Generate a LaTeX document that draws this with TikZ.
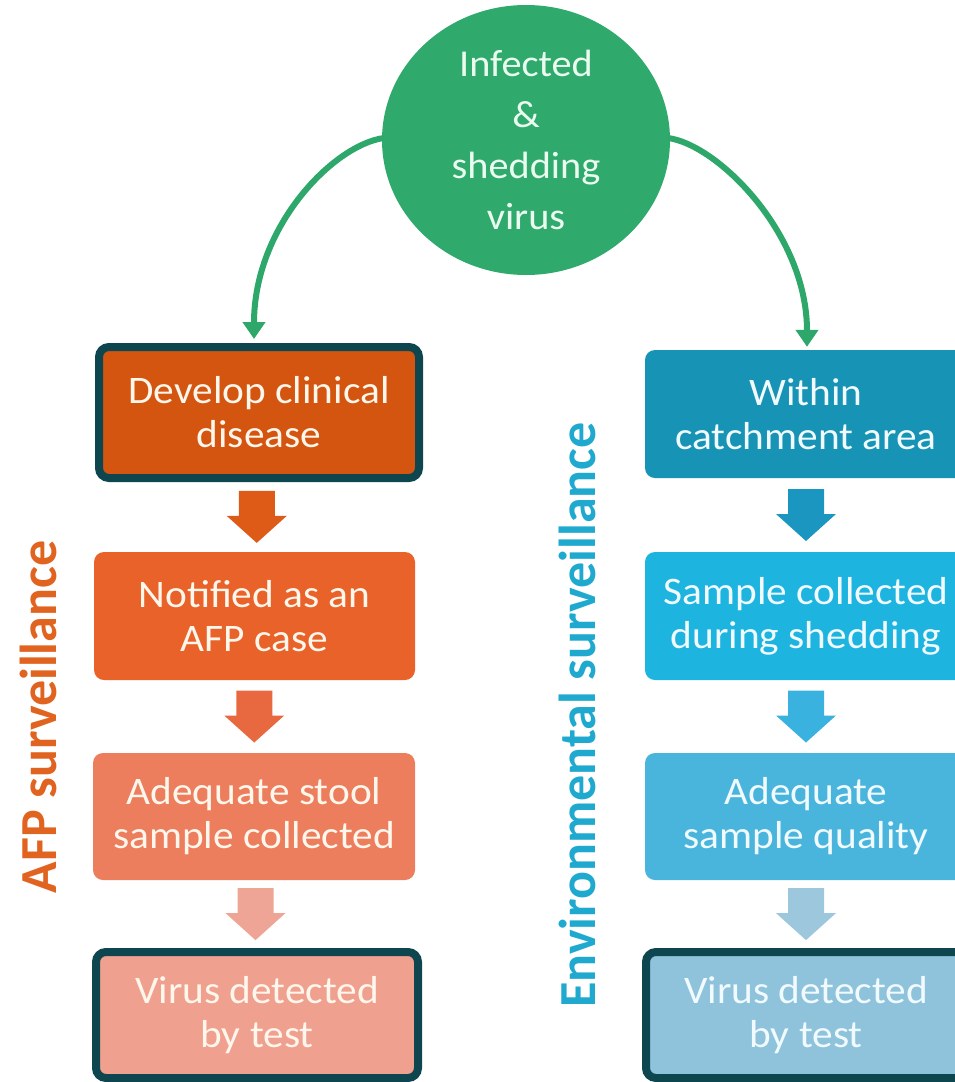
\documentclass[tikz,border=0pt]{standalone}
\usepackage{fontspec}
\setmainfont{Carlito}[FakeStretch=1.06]
\newfontfamily\sidefont{Carlito}
\usetikzlibrary{arrows.meta,calc,shapes.geometric}
\definecolor{grn}{HTML}{2FAA6C}
\definecolor{grnline}{HTML}{2EA86A}
\definecolor{dkb}{HTML}{0E4650}
\definecolor{orA}{HTML}{D3550F}
\definecolor{orB}{HTML}{E8622A}
\definecolor{orC}{HTML}{EC7D5D}
\definecolor{orD}{HTML}{EFA08E}
\definecolor{oaA}{HTML}{DD5A17}
\definecolor{oaB}{HTML}{E8693F}
\definecolor{oaC}{HTML}{EFA596}
\definecolor{blA}{HTML}{1793B5}
\definecolor{blB}{HTML}{1DB4E0}
\definecolor{blC}{HTML}{4AB5DC}
\definecolor{blD}{HTML}{8EC3DB}
\definecolor{baA}{HTML}{1B96C0}
\definecolor{baB}{HTML}{3AB2E0}
\definecolor{baC}{HTML}{9CC7DC}
\definecolor{afpc}{HTML}{E0631F}
\definecolor{envc}{HTML}{1FA9CF}
\definecolor{txo}{HTML}{FFF6EC}
\definecolor{txb}{HTML}{F0FAFF}
\definecolor{txg}{HTML}{EAFBF0}
\newcommand\bxfont{\fontsize{39}{44}\selectfont}
\newcommand\crfont{\fontsize{38}{51}\selectfont}
\newcommand\sdfont{\sidefont\bfseries\fontsize{52}{60}\selectfont}
\newcommand\blockarrow[2]{\fill[#2] (#1) ++(-18,-26) -- ++(36,0) -- ++(0,25) -- ++(12,0) -- ++(-30,27) -- ++(-30,-27) -- ++(12,0) -- cycle;}
\tikzset{
  fbox/.style={rectangle, rounded corners=10pt, align=center, inner sep=0pt, font=\bxfont},
  lbox/.style={fbox, text=txo},
  rbox/.style={fbox, text=txb},
  hilite/.style={draw=dkb, line width=8pt},
  curvearrow/.style={draw=grnline, line width=6pt, -{Triangle[width=22pt,length=17pt]}},
  sidelabel/.style={rotate=90, font=\sdfont, inner sep=0pt}
}
\begin{document}
\begin{tikzpicture}[x=1pt,y=-1pt]
\path[use as bounding box] (0,0) rectangle (955,1082);
\clip (0,0) rectangle (955,1082);
% top circle
\node[ellipse, fill=grn, minimum width=288pt, minimum height=270pt, inner sep=0pt, align=center, text=txg, font=\crfont] (c) at (526,140) {Infected\\\&\\shedding\\virus};
% left column
\node[lbox, hilite, fill=orA, minimum width=320pt, minimum height=131pt] (l1) at (259,412.5) {Develop clinical\\disease};
\node[lbox, fill=orB, minimum width=321pt, minimum height=128pt] (l2) at (254.5,616) {Notified as an\\AFP case};
\node[lbox, fill=orC, minimum width=322pt, minimum height=127pt] (l3) at (254,816.5) {Adequate stool\\sample collected};
\node[lbox, hilite, fill=orD, minimum width=322pt, minimum height=126pt] (l4) at (257,1015) {Virus detected\\by test};
% right column
\node[rbox, fill=blA, minimum width=322pt, minimum height=128pt] (r1) at (806,414) {Within\\catchment area};
\node[rbox, fill=blB, minimum width=322pt, minimum height=128pt] (r2) at (806,616) {Sample collected\\during shedding};
\node[rbox, fill=blC, minimum width=322pt, minimum height=127pt] (r3) at (806,816.5) {Adequate\\sample quality};
\node[rbox, hilite, fill=blD, minimum width=320pt, minimum height=126pt] (r4) at (806,1015) {Virus detected\\by test};
% block arrows
\coordinate (la1) at ($(l1.south)!0.5!(l2.north)$);
\coordinate (la2) at ($(l2.south)!0.5!(l3.north)$);
\coordinate (la3) at ($(l3.south)!0.5!(l4.north)$);
\coordinate (ra1) at ($(r1.south)!0.5!(r2.north)$);
\coordinate (ra2) at ($(r2.south)!0.5!(r3.north)$);
\coordinate (ra3) at ($(r3.south)!0.5!(r4.north)$);
\blockarrow{la1}{oaA}
\blockarrow{la2}{oaB}
\blockarrow{la3}{oaC}
\blockarrow{ra1}{baA}
\blockarrow{ra2}{baB}
\blockarrow{ra3}{baC}
% curved connectors
\coordinate (lend) at ($(l1.north)+(-5,-4)$);
\coordinate (rend) at ($(r1.north)+(1,-3)$);
\draw[curvearrow] ($(c.west)+(2,-2)$) .. controls +(-50,7) and +(0,-113) .. (lend);
\draw[curvearrow] ($(c.east)+(-2,-2)$) .. controls +(50,7) and +(0,-113) .. (rend);
% side labels
\node[sidelabel, text=afpc] (afp) at (38,717) {AFP surveillance};
\node[sidelabel, text=envc] (env) at (577,715) {Environmental surveillance};
\end{tikzpicture}
\end{document}
